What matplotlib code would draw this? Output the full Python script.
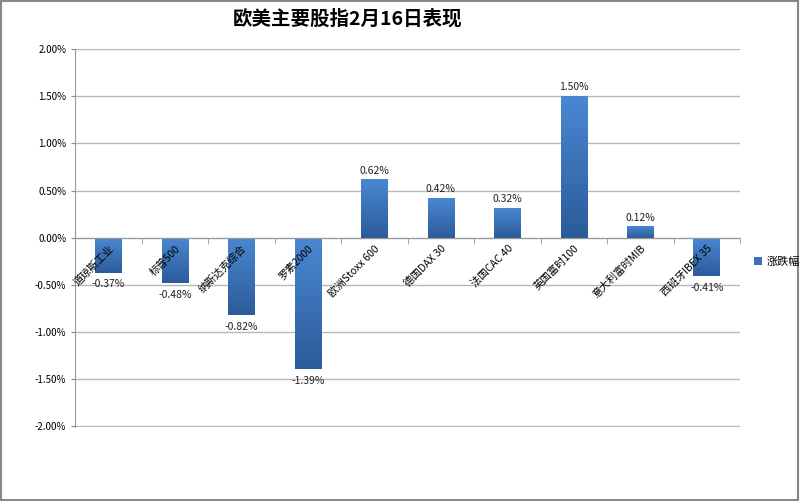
import matplotlib.pyplot as plt
import numpy as np
from matplotlib.patches import Rectangle
from matplotlib.colors import LinearSegmentedColormap

plt.rcParams['font.family'] = ['Noto Sans CJK SC', 'DejaVu Sans']

# index names and daily change (%)
names = ['道琼斯工业', '标普500', '纳斯达克综合', '罗素2000', '欧洲Stoxx 600',
         '德国DAX 30', '法国CAC 40', '英国富时100', '意大利富时MIB', '西班牙IBEX 35']
changes = [-0.37, -0.48, -0.82, -1.39, 0.62, 0.42, 0.32, 1.50, 0.12, -0.41]
yticks = [-2.0, -1.5, -1.0, -0.5, 0.0, 0.5, 1.0, 1.5, 2.0]

fig = plt.figure(figsize=(8, 5.01), dpi=100)
ax = fig.add_axes([0.094, 0.148, 0.831, 0.754])

x = np.arange(len(names))
bars = ax.bar(x, changes, width=0.4, color='#3A70B8', zorder=2, label='涨跌幅')

# vertical gradient inside each bar
grad = np.linspace(0, 1, 256).reshape(-1, 1)
cmap = LinearSegmentedColormap.from_list('g', ['#2C5B9A', '#4A88D2'])
for b in bars:
    x0, y0 = b.get_x(), b.get_y()
    w, h = b.get_width(), b.get_height()
    lo, hi = min(y0, y0 + h), max(y0, y0 + h)
    im = ax.imshow(grad, extent=[x0, x0 + w, lo, hi], origin='lower',
                   cmap=cmap, aspect='auto', zorder=2.5)
    im.set_clip_path(b)

# value labels
for xi, v in zip(x, changes):
    off = 0.04 if v > 0 else -0.07
    ax.text(xi, v + off, f'{v:.2f}%', ha='center',
            va='bottom' if v > 0 else 'top', fontsize=7.5, color='#222222')

ax.set_xlim(-0.5, len(names) - 0.5)
ax.set_ylim(-2.004, 2.0)
ax.set_yticks(yticks)
ax.set_yticklabels([f'{t:.2f}%' for t in yticks], fontsize=7)
ax.yaxis.grid(True, color='#B8B8B8', linewidth=1)
ax.yaxis.set_zorder(0.5)
ax.tick_params(axis='y', length=3, color='#888888')

ax.spines['bottom'].set_position(('data', 0))
ax.spines['bottom'].set_color('#999999')
ax.spines['left'].set_color('#999999')
ax.spines['top'].set_visible(False)
ax.spines['right'].set_visible(False)

ax.set_xticks(x)
ax.set_xticklabels(names, rotation=45, ha='right', rotation_mode='anchor', fontsize=7.5)
ax.set_xticks(np.arange(len(names) + 1) - 0.5, minor=True)
ax.tick_params(axis='x', which='major', length=0, pad=4)
ax.tick_params(axis='x', which='minor', length=4, color='#999999')
ax.xaxis.set_zorder(5)

fig.text(0.435, 0.962, '欧美主要股指2月16日表现', ha='center', va='center',
         fontsize=14, fontweight='bold')

fig.legend(handles=[bars], labels=['涨跌幅'], loc='center left',
           bbox_to_anchor=(0.93, 0.477), frameon=False, fontsize=8,
           handlelength=0.7, handleheight=0.7, handletextpad=0.4)

fig.patches.append(Rectangle((0.001, 0.001), 0.997, 0.997, transform=fig.transFigure,
                             fill=False, edgecolor='#888888', linewidth=1.5))

fig.savefig('out.png', dpi=100)
